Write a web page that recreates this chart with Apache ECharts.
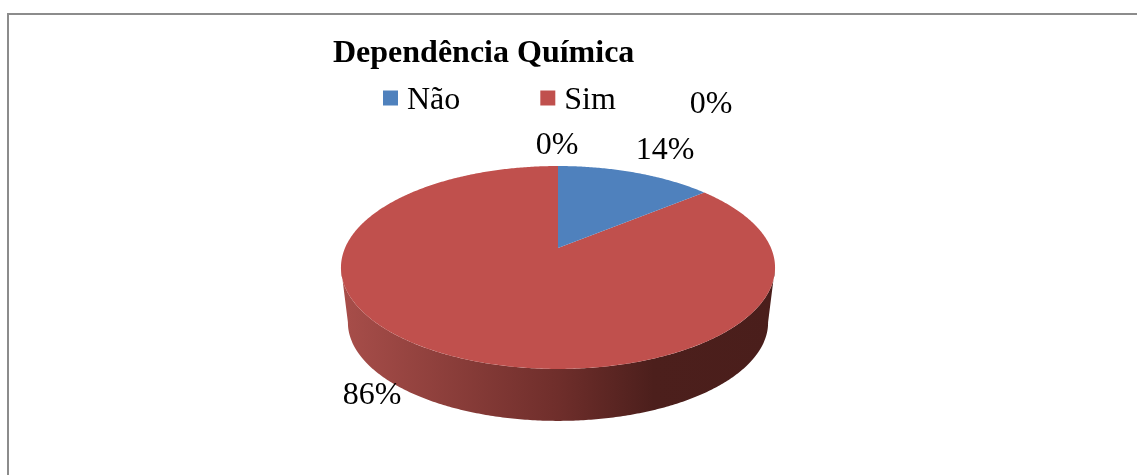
<!DOCTYPE html>
<html>
<head>
<meta charset="utf-8">
<style>
html, body { margin: 0; padding: 0; background: #fff; }
#chart { width: 1137px; height: 475px; }
</style>
<script src="https://cdn.jsdelivr.net/npm/echarts@6/dist/echarts.min.js"></script>
</head>
<body>
<div id="chart"></div>
<script>
var categories = ['Não', 'Sim', '', ''];
var values = [14, 86, 0, 0];
var colors = ['#4f81bd', '#c0504d', '#9bbb59', '#8064a2'];

var total = values.reduce(function (a, b) { return a + b; }, 0);
var serif = '"Liberation Serif", "Times New Roman", serif';

// Where each percent label sits, same order as categories
var labelSpots = [[665, 151], [372, 396], [557, 146], [711, 105]];

// Perspective projection of the pie disc (Excel tilts it, so the centre is not mid-ellipse)
var disc = { cx: 558, a: -50.1, b: 248, c: 0.192, w: 213 };
var wall = { cy: 267.5, cyBottom: 322.5, shrinkX: 0.968, shrinkY: 0.97 };

function project(angle, bottom) {
    var u = Math.sin(angle);
    var v = Math.cos(angle);
    var d = 1 + disc.c * v;
    var x = disc.w * u / d;
    var y = (disc.a * v + disc.b) / d;
    if (bottom) {
        return [disc.cx + x * wall.shrinkX, wall.cyBottom + (y - wall.cy) * wall.shrinkY];
    }
    return [disc.cx + x, y];
}

function arc(from, to, bottom) {
    var pts = [];
    var steps = Math.max(2, Math.ceil((to - from) / 0.01));
    for (var i = 0; i <= steps; i++) {
        pts.push(project(from + (to - from) * i / steps, bottom));
    }
    return pts;
}

var sideGradient = {
    type: 'linear', x: 0, y: 0, x2: 1, y2: 0,
    colorStops: [
        { offset: 0, color: '#a84e4a' },
        { offset: 0.5, color: '#6f2e2b' },
        { offset: 0.72, color: '#4c1f1c' },
        { offset: 1, color: '#4a1e1b' }
    ]
};

function renderSlice(params, api) {
    var value = api.value(0);
    if (!value) {
        return { type: 'group', children: [] };
    }
    var start = api.value(1) / total * Math.PI * 2;
    var end = start + value / total * Math.PI * 2;
    var children = [];

    // side wall, only the front half of the rim shows
    var frontFrom = Math.max(start, 101 * Math.PI / 180);
    var frontTo = Math.min(end, 259 * Math.PI / 180);
    if (frontTo > frontFrom) {
        children.push({
            type: 'polygon',
            shape: { points: arc(frontFrom, frontTo, false).concat(arc(frontFrom, frontTo, true).reverse()) },
            style: { fill: sideGradient }
        });
    }

    children.push({
        type: 'polygon',
        shape: { points: [[disc.cx, disc.b]].concat(arc(start, end, false)) },
        style: { fill: api.visual('color') }
    });
    return { type: 'group', children: children };
}

function renderLabel(params, api) {
    var spot = labelSpots[params.dataIndex];
    return {
        type: 'text',
        x: spot[0],
        y: spot[1],
        style: {
            text: api.value(0) + '%',
            font: '32px ' + serif,
            fill: '#000',
            align: 'center',
            verticalAlign: 'middle'
        }
    };
}

var sliceOrder = [1, 0, 2, 3];
var sliceSeries = sliceOrder.map(function (i) {
    var before = values.slice(0, i).reduce(function (a, b) { return a + b; }, 0);
    return {
        type: 'custom',
        coordinateSystem: 'none',
        name: categories[i],
        silent: true,
        itemStyle: { color: colors[i] },
        renderItem: renderSlice,
        data: [[values[i], before]]
    };
});

var chart = echarts.init(document.getElementById('chart'));

chart.setOption({
    animation: false,
    backgroundColor: '#fff',
    color: colors,
    title: {
        text: 'Dependência Química',
        left: 333,
        top: 38,
        padding: 0,
        textStyle: { fontFamily: serif, fontSize: 32, fontWeight: 'bold', color: '#000' }
    },
    legend: {
        left: 383,
        top: 85,
        padding: 0,
        icon: 'rect',
        itemWidth: 15,
        itemHeight: 15,
        itemGap: 80,
        selectedMode: false,
        data: categories.filter(function (c) { return c; }),
        formatter: '{t|{name}}',
        textStyle: {
            rich: {
                t: { fontFamily: serif, fontSize: 32, color: '#000', padding: [6, 0, 0, 4] }
            }
        }
    },
    graphic: [
        { type: 'rect', shape: { x: 7, y: 13, width: 1130, height: 2 }, style: { fill: '#8c8c8c' } },
        { type: 'rect', shape: { x: 7, y: 13, width: 2, height: 462 }, style: { fill: '#8c8c8c' } }
    ],
    series: sliceSeries.concat({
        type: 'custom',
        coordinateSystem: 'none',
        name: 'labels',
        silent: true,
        z: 5,
        renderItem: renderLabel,
        data: values.map(function (v) { return [v]; })
    })
});

window.addEventListener('resize', function () {
    chart.resize();
});
</script>
</body>
</html>
